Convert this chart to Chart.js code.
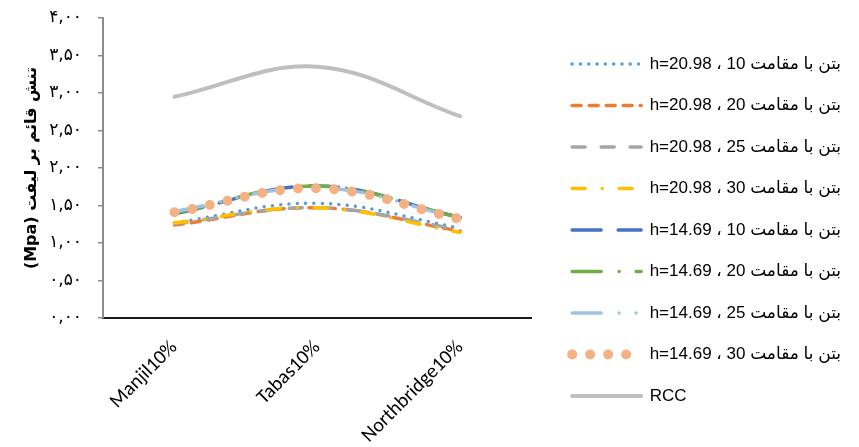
<!DOCTYPE html>
<html>
<head>
<meta charset="utf-8">
<script src="https://cdn.jsdelivr.net/npm/chart.js@4.4.1/dist/chart.umd.min.js"></script>
<style>
  html, body { margin: 0; padding: 0; background: #fff; }
  #wrap { width: 859px; height: 447px; position: relative; }
</style>
</head>
<body>
<div id="wrap"><canvas id="stressChart"></canvas></div>
<script>
const categories = ['Manjil10%', 'Tabas10%', 'Northbridge10%'];

const seriesNames = [
  'بتن با مقامت 10 ، h=20.98',
  'بتن با مقامت 20 ، h=20.98',
  'بتن با مقامت 25 ، h=20.98',
  'بتن با مقامت 30 ، h=20.98',
  'بتن با مقامت 10 ، h=14.69',
  'بتن با مقامت 20 ، h=14.69',
  'بتن با مقامت 25 ، h=14.69',
  'بتن با مقامت 30 ، h=14.69',
  'RCC',
];

// values (Mpa)
const h2098s10 = [1.27, 1.53, 1.20];
const h2098s20 = [1.24, 1.47, 1.16];
const h2098s25 = [1.26, 1.47, 1.18];
const h2098s30 = [1.27, 1.47, 1.14];
const h1469s10 = [1.39, 1.76, 1.34];
const h1469s20 = [1.40, 1.76, 1.34];
const h1469s25 = [1.42, 1.74, 1.33];
const h1469s30 = [1.41, 1.73, 1.32];
const rccValues = [2.95, 3.35, 2.69];

const yTicks = [0, 0.5, 1, 1.5, 2, 2.5, 3, 3.5, 4];
const yTitle = '\u202Bتنش قائم بر لیفت (Mpa)\u202C';

const allValues = [h2098s10, h2098s20, h2098s25, h2098s30, h1469s10, h1469s20, h1469s25, h1469s30, rccValues];

const styles = [
  { color: '#5B9BD5', width: 3.5, dash: [0, 8.3] },
  { color: '#ED7D31', width: 3.5, dash: [9, 8] },
  { color: '#A5A5A5', width: 3.5, dash: [13, 16] },
  { color: '#FFC000', width: 3.5, dash: [13, 17, 0, 17] },
  { color: '#4472C4', width: 3.5, dash: [29, 17] },
  { color: '#70AD47', width: 3.5, dash: [29, 18, 0, 17] },
  { color: '#9DC3E6', width: 3.5, dash: [29, 18, 0, 17, 0, 17] },
  { color: '#F4B183', width: 10, dash: [0, 18] },
  { color: '#BFBFBF', width: 4, dash: [] },
];

const persianDigits = '۰۱۲۳۴۵۶۷۸۹';
function toPersian(v) {
  return v.toFixed(2).replace('.', ',').replace(/\d/g, (d) => persianDigits[d]);
}

const datasets = allValues.map((vals, i) => ({
  label: seriesNames[i],
  data: vals,
  borderColor: styles[i].color,
  backgroundColor: styles[i].color,
  borderWidth: styles[i].width,
  borderDash: styles[i].dash,
  borderCapStyle: 'round',
  borderJoinStyle: 'round',
  pointRadius: 0,
  pointHoverRadius: 0,
  tension: 0.38,
  fill: false,
  order: allValues.length - i,
}));

// legend samples use the same dash / width as the lines
function legendLabels(chart) {
  const items = Chart.defaults.plugins.legend.labels.generateLabels(chart);
  items.forEach((item) => {
    const s = styles[item.datasetIndex];
    item.lineDash = s.dash;
    item.lineWidth = s.width;
    item.lineCap = 'round';
    item.strokeStyle = s.color;
    item.fillStyle = s.color;
    item.pointStyle = 'line';
  });
  return items;
}

const ctx = document.getElementById('stressChart').getContext('2d');
new Chart(ctx, {
  type: 'line',
  data: { labels: categories, datasets },
  options: {
    responsive: true,
    maintainAspectRatio: false,
    animation: false,
    layout: { padding: { top: 18, bottom: 5, left: 0, right: 8 } },
    plugins: {
      tooltip: { enabled: false },
      legend: {
        position: 'right',
        maxWidth: 340,
        textDirection: 'rtl',
        labels: {
          usePointStyle: true,
          pointStyle: 'line',
          pointStyleWidth: 69,
          boxHeight: 17,
          padding: 24.5,
          color: '#000',
          font: { family: '"Liberation Sans", Arial, "DejaVu Sans"', size: 17 },
          generateLabels: legendLabels,
          sort: (a, b) => a.datasetIndex - b.datasetIndex,
        },
      },
    },
    scales: {
      x: {
        offset: true,
        grid: { display: false, drawTicks: false },
        border: { display: true, color: '#1a1a1a', width: 2 },
        ticks: {
          minRotation: 45,
          maxRotation: 45,
          padding: 18,
          color: '#000',
          font: { family: 'Carlito, Lato, "Liberation Sans"', size: 20 },
        },
        afterFit(scale) { scale.height = 124; },
      },
      y: {
        min: 0,
        max: 4,
        afterBuildTicks(scale) { scale.ticks = yTicks.map((v) => ({ value: v })); },
        grid: { drawOnChartArea: false, drawTicks: true, tickLength: 5, color: '#8c8c8c', lineWidth: 1.5 },
        border: { display: true, color: '#8c8c8c', width: 2 },
        ticks: {
          padding: 16,
          color: '#000',
          font: { family: '"DejaVu Sans"', size: 17 },
          callback: (v) => toPersian(v),
        },
        title: {
          display: true,
          text: yTitle,
          color: '#000',
          padding: { top: 22, bottom: 0 },
          font: { family: '"DejaVu Sans"', size: 16, weight: 'bold' },
        },
        afterFit(scale) {
          scale.width = 103;
          scale.paddingTop = 0;
          scale.paddingBottom = 0;
        },
      },
      gap: {
        position: 'right',
        display: true,
        grid: { display: false },
        border: { display: false },
        ticks: { display: false },
        afterFit(scale) { scale.width = 16; },
      },
    },
  },
});
</script>
</body>
</html>
